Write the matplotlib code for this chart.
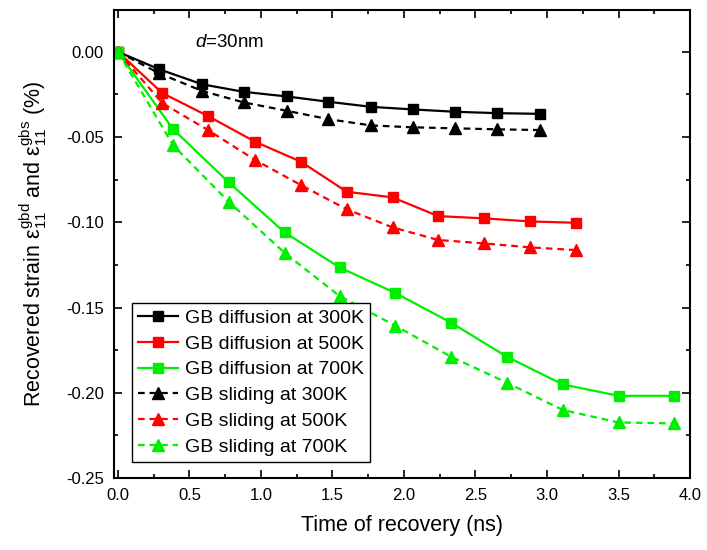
import matplotlib
matplotlib.use("Agg")
import matplotlib.pyplot as plt
from matplotlib.ticker import MultipleLocator

plt.rcParams['font.family'] = ['Liberation Sans', 'DejaVu Sans']
plt.rcParams['mathtext.fontset'] = 'custom'
plt.rcParams['mathtext.rm'] = 'Liberation Sans'
plt.rcParams['mathtext.it'] = 'Liberation Sans:italic'

# recovery time (ns) and recovered strain (%) for each temperature
t_300 = [0.0, 0.29, 0.59, 0.88, 1.18, 1.47, 1.77, 2.06, 2.36, 2.65, 2.95]
diff_300 = [0.0, -0.0103, -0.0191, -0.0235, -0.0262, -0.0293, -0.0323, -0.0338, -0.0352, -0.0360, -0.0364]
slid_300 = [0.0, -0.0127, -0.0230, -0.0297, -0.0346, -0.0395, -0.0432, -0.0443, -0.0449, -0.0455, -0.0459]

t_500 = [0.0, 0.31, 0.63, 0.96, 1.28, 1.60, 1.92, 2.24, 2.56, 2.88, 3.20]
diff_500 = [0.0, -0.0242, -0.0377, -0.0528, -0.0645, -0.0821, -0.0854, -0.0964, -0.0977, -0.0995, -0.1003]
slid_500 = [0.0, -0.0301, -0.0459, -0.0635, -0.0782, -0.0924, -0.1030, -0.1104, -0.1124, -0.1147, -0.1163]

t_700 = [0.0, 0.385, 0.775, 1.165, 1.55, 1.94, 2.33, 2.72, 3.11, 3.50, 3.89]
diff_700 = [0.0, -0.0453, -0.0766, -0.1059, -0.1265, -0.1415, -0.1589, -0.1789, -0.1951, -0.2018, -0.2018]
slid_700 = [0.0, -0.0547, -0.0880, -0.1179, -0.1433, -0.1607, -0.1789, -0.1941, -0.2101, -0.2174, -0.2180]

temps = ['300K', '500K', '700K']
colors = ['black', 'red', '#00ee00']

fig = plt.figure(figsize=(7.07, 5.5), dpi=100)
ax = fig.add_axes([0.1617, 0.1309, 0.8143, 0.8509])

times = [t_300, t_500, t_700]
diffusion = [diff_300, diff_500, diff_700]
sliding = [slid_300, slid_500, slid_700]

for t, y, c, T in zip(times, diffusion, colors, temps):
    ax.plot(t, y, '-', color=c, lw=1.6, marker='s', ms=7.5,
            label='GB diffusion at ' + T)
for t, y, c, T in zip(times, sliding, colors, temps):
    ax.plot(t, y, '--', color=c, lw=1.6, marker='^', ms=8.5,
            dashes=(3, 2.2), label='GB sliding at ' + T)

ax.set_xlim(-0.025, 4.0)
ax.set_ylim(-0.25, 0.0245)
ax.xaxis.set_major_locator(MultipleLocator(0.5))
ax.xaxis.set_minor_locator(MultipleLocator(0.25))
ax.yaxis.set_major_locator(MultipleLocator(0.05))
ax.yaxis.set_minor_locator(MultipleLocator(0.025))
ax.yaxis.set_major_formatter(plt.FormatStrFormatter('%.2f'))
ax.xaxis.set_major_formatter(plt.FormatStrFormatter('%.1f'))
ax.tick_params(which='both', direction='in', top=True, right=True, width=1.2,
               labelsize=12, pad=7.5)
ax.tick_params(which='major', length=5.5)
ax.tick_params(which='minor', length=3)
for s in ax.spines.values():
    s.set_linewidth(1.5)

ax.set_xlabel('Time of recovery (ns)', fontsize=15.5, labelpad=8)
ax.set_ylabel(r'Recovered strain $\mathrm{ε}_{11}^{\mathrm{gbd}}$ and '
              r'$\mathrm{ε}_{11}^{\mathrm{gbs}}$ (%)', fontsize=15.5, labelpad=12)

ax.text(0.54, 0.0057, r'$d$=30nm', fontsize=13.5, va='center', ha='left')

leg = ax.legend(loc='lower left', bbox_to_anchor=(0.031, 0.035), fontsize=14,
                frameon=True, fancybox=False, framealpha=1, edgecolor='black',
                handlelength=2.05, labelspacing=0.42, borderpad=0.3,
                handletextpad=0.35, borderaxespad=0)
leg.get_frame().set_linewidth(1.0)

fig.savefig('out.png', dpi=100)
